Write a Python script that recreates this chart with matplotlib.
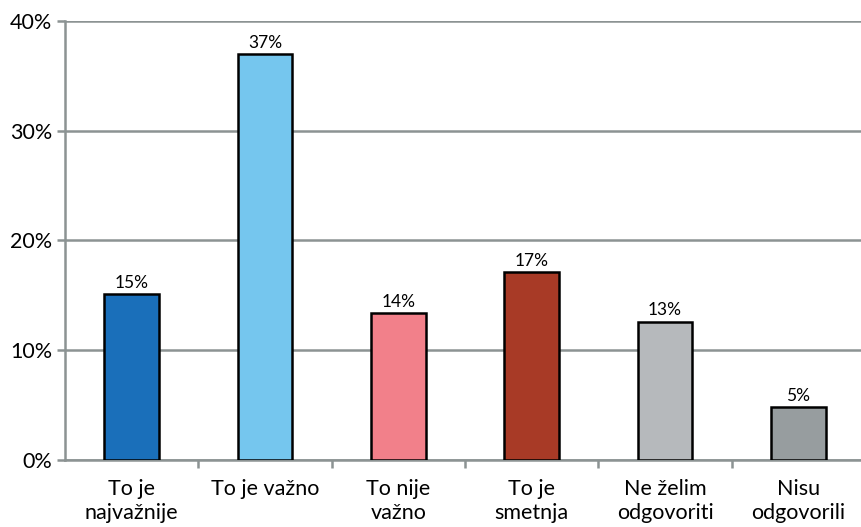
import matplotlib.pyplot as plt
import numpy as np

categories = ["To je\nnajvažnije", "To je važno", "To nije\nvažno", "To je\nsmetnja",
              "Ne želim\nodgovoriti", "Nisu\nodgovorili"]
values = [15.1, 37.0, 13.4, 17.1, 12.6, 4.8]
labels = ["15%", "37%", "14%", "17%", "13%", "5%"]
colors = ["#1a6fba", "#75c6ee", "#f2808a", "#a83a26", "#b6b9bc", "#979d9f"]

plt.rcParams['font.family'] = ['Lato', 'DejaVu Sans']
grey = "#8c9393"

fig = plt.figure(figsize=(8.61, 5.27), dpi=100)
ax = fig.add_axes([65 / 861, 67 / 527, 1 - 65 / 861, 439 / 527])

x = np.arange(len(categories))
bars = ax.bar(x, values, width=0.41, color=colors, edgecolor="black", linewidth=1.8, zorder=3)
for b, lab in zip(bars, labels):
    ax.text(b.get_x() + b.get_width() / 2, b.get_height() + 0.3, lab,
            ha="center", va="bottom", fontsize=12.5)

ax.set_ylim(0, 40)
ax.set_xlim(-0.5, 5.47)
ax.set_yticks([0, 10, 20, 30, 40])
ax.set_yticklabels(["0%", "10%", "20%", "30%", "40%"], fontsize=15.5)
ax.yaxis.grid(True, color=grey, linewidth=1.8, zorder=0)
ax.set_axisbelow(True)

ax.set_xticks(x)
ax.set_xticklabels(categories, fontsize=15.5, linespacing=1.2)
ax.tick_params(axis="x", length=0, pad=14)
ax.set_xticks(np.arange(0.5, 5.5, 1), minor=True)
ax.tick_params(axis="x", which="minor", length=6, width=1.8, color=grey)
ax.tick_params(axis="y", length=6, width=1.8, color=grey, pad=3)

for s in ["top", "right"]:
    ax.spines[s].set_visible(False)
for s in ["left", "bottom"]:
    ax.spines[s].set_color(grey)
    ax.spines[s].set_linewidth(1.8)

fig.savefig("out.png", dpi=100)
